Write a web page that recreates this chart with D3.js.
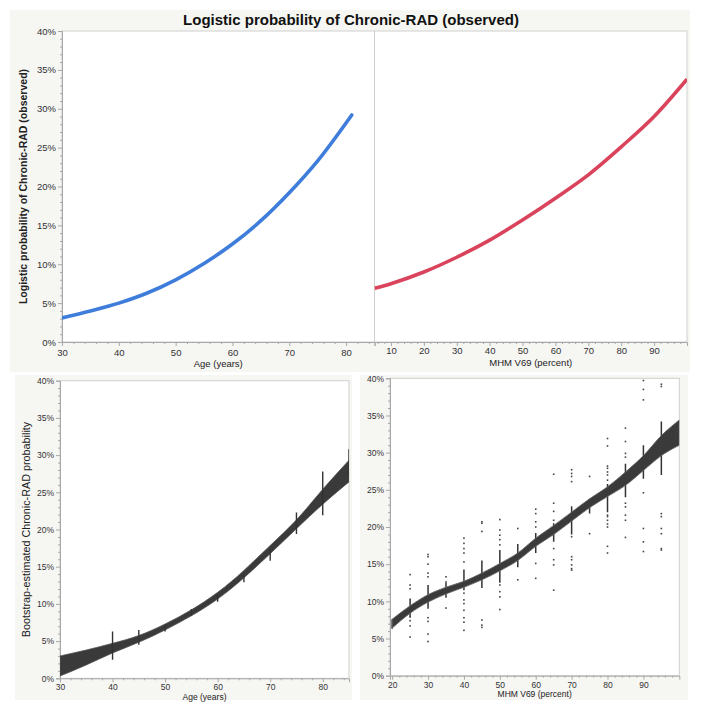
<!DOCTYPE html>
<html>
<head>
<meta charset="utf-8">
<script src="https://cdn.jsdelivr.net/npm/d3@7/dist/d3.min.js"></script>
<style>
  html, body { margin: 0; padding: 0; background: #ffffff; }
  svg { display: block; font-family: "Liberation Sans", Arial, Helvetica, sans-serif; }
</style>
</head>
<body>
<svg id="chart" width="701" height="715"></svg>
<script>
// ---------------- DATA ----------------
const titleText = "Logistic probability of Chronic-RAD (observed)";
const yTicks = [0, 5, 10, 15, 20, 25, 30, 35, 40];

// Top-left: logistic probability vs age (blue)
const topAgeX    = [30, 35, 40, 45, 50, 55, 60, 65, 70, 75, 81];
const topAgeProb = [3.1, 4.0, 5.0, 6.3, 8.0, 10.1, 12.6, 15.6, 19.2, 23.3, 29.2];
const topAgeTicks = [30, 40, 50, 60, 70, 80];

// Top-right: logistic probability vs MHM V69 (red)
const topMhmX    = [5, 10, 20, 30, 40, 50, 60, 70, 80, 90, 100];
const topMhmProb = [6.9, 7.5, 9.0, 10.9, 13.1, 15.7, 18.5, 21.5, 25.1, 29.0, 33.8];
const topMhmTicks = [10, 20, 30, 40, 50, 60, 70, 80, 90];

// Bottom-left: bootstrap band vs age
const bootAgeX    = [30, 35, 40, 45, 50, 55, 60, 65, 70, 75, 80, 85];
const bootAgeLow  = [0.3, 1.8, 3.4, 4.85, 6.5, 8.4, 10.65, 13.5, 16.75, 20.1, 23.4, 26.4];
const bootAgeHigh = [3.0, 3.8, 4.7, 5.75, 7.3, 9.2, 11.55, 14.5, 17.85, 21.3, 25.4, 29.3];
const bootAgeSegX    = [40, 45, 50, 55, 60, 65, 70, 75, 80, 85];
const bootAgeSegLow  = [2.5, 4.5, 6.3, 8.4, 10.3, 12.9, 15.8, 19.4, 21.9, 27.0];
const bootAgeSegHigh = [6.3, 6.5, 7.2, 9.3, 11.3, 14.0, 17.3, 22.3, 27.8, 30.8];
const bootAgeTicks = [30, 40, 50, 60, 70, 80];

// Bottom-right: bootstrap band vs MHM V69
const bootMhmX    = [20, 25, 30, 35, 40, 45, 50, 55, 60, 65, 70, 75, 80, 85, 90, 95, 100];
const bootMhmLow  = [6.4, 8.4, 9.9, 11.0, 11.9, 12.9, 14.1, 15.5, 17.4, 19.0, 20.8, 22.6, 24.1, 25.6, 27.6, 29.6, 31.0];
const bootMhmHigh = [7.6, 9.4, 10.9, 11.9, 12.7, 13.8, 15.1, 16.5, 18.5, 20.2, 22.0, 23.8, 25.4, 27.4, 29.6, 32.3, 34.4];
const bootMhmClusterX    = [20, 25, 30, 35, 40, 45, 50, 55, 60, 65, 70, 75, 80, 85, 90, 95];
const bootMhmClusterLow  = [6.3, 7.9, 9.0, 10.5, 11.5, 11.8, 12.5, 14.6, 16.5, 18.0, 19.0, 21.8, 22.0, 24.0, 26.5, 27.0];
const bootMhmClusterHigh = [7.6, 10.4, 12.2, 12.5, 14.3, 15.5, 16.9, 17.7, 19.2, 20.5, 22.8, 23.8, 25.8, 28.5, 31.0, 34.2];
const bootMhmOutliers = [
  [25, 13.6], [25, 12.2], [25, 11.7], [25, 7.9], [25, 7.4], [25, 6.7], [25, 5.2],
  [30, 16.3], [30, 16.0], [30, 15.0], [30, 13.8], [30, 13.3], [30, 7.8], [30, 7.3], [30, 5.6], [30, 4.6],
  [35, 13.3], [35, 12.6], [35, 9.1],
  [40, 18.5], [40, 17.8], [40, 17.1], [40, 16.5], [40, 15.3], [40, 11.1], [40, 10.2], [40, 9.7], [40, 8.8], [40, 7.8], [40, 7.2], [40, 6.1],
  [45, 20.7], [45, 20.5], [45, 19.4], [45, 7.5], [45, 6.8], [45, 6.5],
  [50, 21.0], [50, 19.6], [50, 18.9], [50, 18.3], [50, 17.6], [50, 12.2], [50, 11.3], [50, 10.6], [50, 8.9],
  [55, 19.8], [55, 12.9],
  [60, 22.4], [60, 21.8], [60, 20.7], [60, 20.0], [60, 15.1], [60, 13.1],
  [65, 27.1], [65, 23.2], [65, 22.1], [65, 20.9], [65, 17.1], [65, 15.6], [65, 14.9], [65, 11.5],
  [70, 27.7], [70, 27.2], [70, 26.8], [70, 26.1], [70, 18.7], [70, 16.0], [70, 15.6], [70, 14.9], [70, 14.4], [70, 14.2],
  [75, 26.8], [75, 19.1],
  [80, 31.9], [80, 30.9], [80, 28.2], [80, 27.9], [80, 27.4], [80, 27.0], [80, 26.3], [80, 21.6], [80, 21.4], [80, 20.9], [80, 20.4], [80, 20.0], [80, 17.4], [80, 16.5],
  [85, 33.3], [85, 31.5], [85, 29.9], [85, 29.4], [85, 23.2], [85, 22.7], [85, 21.6], [85, 20.9], [85, 18.6],
  [90, 39.7], [90, 38.5], [90, 37.1], [90, 24.6], [90, 19.8], [90, 18.0], [90, 16.7],
  [95, 39.2], [95, 38.9], [95, 21.8], [95, 21.4], [95, 19.8], [95, 19.1], [95, 17.1], [95, 16.9]
];
const bootMhmTicks = [20, 30, 40, 50, 60, 70, 80, 90];

// ---------------- DRAW ----------------
const svg = d3.select("#chart");
const BG = "#f6f6f3";
const AXIS = "#a8a8a8";
const LABEL = "#333333";

// panel backgrounds
svg.append("rect").attr("x", 10).attr("y", 10).attr("width", 680).attr("height", 362).attr("fill", BG);
svg.append("rect").attr("x", 15).attr("y", 375).attr("width", 337).attr("height", 325).attr("fill", BG);
svg.append("rect").attr("x", 360).attr("y", 375).attr("width", 328).attr("height", 325).attr("fill", BG);

// title
svg.append("text").attr("x", 351).attr("y", 25).attr("text-anchor", "middle")
  .attr("font-size", 15).attr("font-weight", "bold").attr("fill", "#111").text(titleText);

function range(a, b, step) { const r = []; for (let v = a; v <= b + 1e-9; v += step) r.push(+v.toFixed(4)); return r; }

function drawPanel(o) {
  const x = d3.scaleLinear().domain(o.xDomain).range([o.x0, o.x1]);
  const y = d3.scaleLinear().domain([0, 40]).range([o.y0, o.y1]);
  const g = svg.append("g");
  // plot area
  g.append("rect").attr("x", o.x0).attr("y", o.y1).attr("width", o.x1 - o.x0).attr("height", o.y0 - o.y1)
    .attr("fill", "#fff").attr("stroke", "#cfcfcf").attr("stroke-width", 1);

  // y axis
  if (o.yAxis) {
    const ya = g.append("g").attr("transform", `translate(${o.x0},0)`)
      .call(d3.axisLeft(y).tickValues(yTicks).tickFormat(d => d + "%").tickSize(4).tickPadding(2));
    ya.select(".domain").attr("stroke", AXIS);
    ya.selectAll(".tick line").attr("stroke", AXIS);
    ya.selectAll("text").attr("font-size", o.fs).attr("fill", LABEL).attr("font-family", null);
    const ym = g.append("g").attr("transform", `translate(${o.x0},0)`)
      .call(d3.axisLeft(y).tickValues(range(0, 40, 1).filter(v => v % 5 !== 0)).tickFormat("").tickSize(2));
    ym.select(".domain").remove();
    ym.selectAll(".tick line").attr("stroke", AXIS);
  }
  // x axis
  const xa = g.append("g").attr("transform", `translate(0,${o.y0})`)
    .call(d3.axisBottom(x).tickValues(o.xTicks).tickSize(4).tickPadding(o.xPad));
  xa.select(".domain").attr("stroke", AXIS);
  xa.selectAll(".tick line").attr("stroke", AXIS);
  xa.selectAll("text").attr("font-size", o.fs).attr("fill", LABEL).attr("font-family", null);
  const xm = g.append("g").attr("transform", `translate(0,${o.y0})`)
    .call(d3.axisBottom(x).tickValues(o.xMinor).tickFormat("").tickSize(2));
  xm.select(".domain").remove();
  xm.selectAll(".tick line").attr("stroke", AXIS);

  // x title
  g.append("text").attr("x", (o.x0 + o.x1) / 2).attr("y", o.xTitleY).attr("text-anchor", "middle")
    .attr("font-size", o.fs).attr("fill", "#222").text(o.xTitle);
  // y title
  if (o.yTitle) {
    g.append("text").attr("transform", `translate(${o.yTitleX},${(o.y0 + o.y1) / 2}) rotate(-90)`)
      .attr("text-anchor", "middle").attr("font-size", o.yTitleFs).attr("font-weight", o.yTitleBold ? "bold" : "normal")
      .attr("fill", "#222").text(o.yTitle);
  }
  const clipId = "clip" + Math.round(o.x0) + "_" + Math.round(o.y0);
  svg.append("clipPath").attr("id", clipId).append("rect")
    .attr("x", o.x0).attr("y", o.y1).attr("width", o.x1 - o.x0).attr("height", o.y0 - o.y1);
  const plot = svg.append("g").attr("clip-path", `url(#${clipId})`);
  return { x, y, plot };
}

// --- Top-left
const p1 = drawPanel({
  x0: 62, x1: 374.5, y0: 342, y1: 31, xDomain: [30, 85],
  xTicks: topAgeTicks, xMinor: range(32, 84, 2).filter(v => v % 10 !== 0), xPad: 3,
  yAxis: true, fs: 9.5, xTitle: "Age (years)", xTitleY: 367,
  yTitle: "Logistic probability of Chronic-RAD (observed)", yTitleX: 27, yTitleFs: 10.5, yTitleBold: true
});
p1.plot.append("path")
  .datum(topAgeX.map((v, i) => [v, topAgeProb[i]]))
  .attr("d", d3.line().x(d => p1.x(d[0])).y(d => p1.y(d[1])).curve(d3.curveMonotoneX))
  .attr("fill", "none").attr("stroke", "#3f7ddb").attr("stroke-width", 3.6).attr("stroke-linecap", "round");

// --- Top-right
const p2 = drawPanel({
  x0: 374.5, x1: 687, y0: 342, y1: 31, xDomain: [5, 100],
  xTicks: topMhmTicks, xMinor: range(6, 100, 2).filter(v => v % 10 !== 0), xPad: 1,
  yAxis: false, fs: 9.5, xTitle: "MHM V69 (percent)", xTitleY: 366
});
p2.plot.append("path")
  .datum(topMhmX.map((v, i) => [v, topMhmProb[i]]))
  .attr("d", d3.line().x(d => p2.x(d[0])).y(d => p2.y(d[1])).curve(d3.curveMonotoneX))
  .attr("fill", "none").attr("stroke", "#d9435c").attr("stroke-width", 3.6);

// --- Bottom-left
const p3 = drawPanel({
  x0: 60, x1: 349, y0: 678.3, y1: 380.7, xDomain: [30, 85],
  xTicks: bootAgeTicks, xMinor: range(32, 84, 2).filter(v => v % 10 !== 0), xPad: 2,
  yAxis: true, fs: 8.5, xTitle: "Age (years)", xTitleY: 700,
  yTitle: "Bootstrap-estimated Chronic-RAD probability", yTitleX: 30, yTitleFs: 10.8, yTitleBold: false
});
const bandAge = bootAgeX.map((v, i) => ({ x: v, lo: bootAgeLow[i], hi: bootAgeHigh[i] }));
p3.plot.append("path").datum(bandAge)
  .attr("d", d3.area().x(d => p3.x(d.x)).y0(d => p3.y(d.lo)).y1(d => p3.y(d.hi)).curve(d3.curveNatural))
  .attr("fill", "#3a3a3a").attr("stroke", "#555").attr("stroke-width", 0.8);
p3.plot.selectAll(".seg").data(bootAgeSegX.map((v, i) => ({ x: v, lo: bootAgeSegLow[i], hi: bootAgeSegHigh[i] })))
  .join("line")
  .attr("x1", d => p3.x(d.x)).attr("x2", d => p3.x(d.x))
  .attr("y1", d => p3.y(d.lo)).attr("y2", d => p3.y(d.hi))
  .attr("stroke", "#333").attr("stroke-width", 1.4);

// --- Bottom-right
const p4 = drawPanel({
  x0: 390, x1: 679.3, y0: 675.7, y1: 378.3, xDomain: [19.4, 100],
  xTicks: bootMhmTicks, xMinor: range(22, 100, 2).filter(v => v % 10 !== 0), xPad: 2,
  yAxis: true, fs: 8.5, xTitle: "MHM V69 (percent)", xTitleY: 697
});
p4.plot.selectAll(".clu").data(bootMhmClusterX.map((v, i) => ({ x: v, lo: bootMhmClusterLow[i], hi: bootMhmClusterHigh[i] })))
  .join("line")
  .attr("x1", d => p4.x(d.x)).attr("x2", d => p4.x(d.x))
  .attr("y1", d => p4.y(d.lo)).attr("y2", d => p4.y(d.hi))
  .attr("stroke", "#333").attr("stroke-width", 1.5);
p4.plot.selectAll(".out").data(bootMhmOutliers).join("rect")
  .attr("x", d => p4.x(d[0]) - 0.8).attr("y", d => p4.y(d[1]) - 0.8)
  .attr("width", 1.6).attr("height", 1.6).attr("fill", "#444");
const bandMhm = bootMhmX.map((v, i) => ({ x: v, lo: bootMhmLow[i], hi: bootMhmHigh[i] }));
p4.plot.append("path").datum(bandMhm)
  .attr("d", d3.area().x(d => p4.x(d.x)).y0(d => p4.y(d.lo)).y1(d => p4.y(d.hi)).curve(d3.curveMonotoneX))
  .attr("fill", "#3a3a3a").attr("stroke", "#666").attr("stroke-width", 0.9);
</script>
</body>
</html>
